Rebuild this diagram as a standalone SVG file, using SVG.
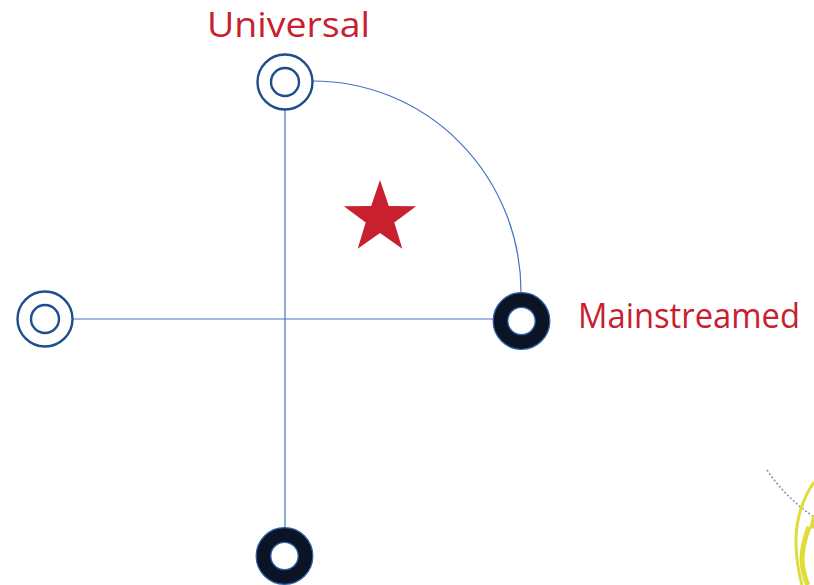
<svg xmlns="http://www.w3.org/2000/svg" width="814" height="585" viewBox="0 0 814 585">
<style>
.ln{fill:none;stroke:#4472c4;stroke-width:1.2}
.ring{fill:none;stroke:#1f4e8c;stroke-width:2.4}
.dark{fill:none;stroke:#0b1424;stroke-width:14.5}
.edge{fill:none;stroke:#2f5fa6;stroke-width:1.3}
.lbl{font-family:"Open Sans","Noto Sans",sans-serif;font-size:35px;fill:#c8202f}
</style>
<rect width="814" height="585" fill="#ffffff"/>
<g id="connectors">
<line class="ln" x1="285" y1="110" x2="285" y2="528"/>
<line class="ln" x1="73" y1="319" x2="493" y2="319"/>
<path class="ln" d="M313,81 A208,211 0 0 1 521,292"/>
</g>
<g id="node-top">
<circle class="ring" cx="285" cy="82" r="27.5"/>
<circle class="ring" cx="285" cy="82" r="14"/>
</g>
<g id="node-left">
<circle class="ring" cx="45" cy="319" r="27.5"/>
<circle class="ring" cx="45" cy="319" r="14"/>
</g>
<g id="node-right">
<circle class="dark" cx="521.5" cy="321" r="21"/>
<circle class="edge" cx="521.5" cy="321" r="28.3"/>
<circle class="edge" cx="521.5" cy="321" r="13.7"/>
</g>
<g id="node-bottom">
<circle class="dark" cx="284.5" cy="556" r="21"/>
<circle class="edge" cx="284.5" cy="556" r="28.3"/>
<circle class="edge" cx="284.5" cy="556" r="13.7"/>
</g>
<g id="star">
<polygon fill="#c8202f" points="380,180 388.8,205.9 416.1,206.3 394.3,222.6 402.3,248.7 380,233 357.7,248.7 365.7,222.6 343.9,206.3 371.2,205.9"/>
</g>
<g id="labels">
<text class="lbl" x="207" y="37" textLength="163" lengthAdjust="spacingAndGlyphs">Universal</text>
<text class="lbl" x="578" y="328" font-size="32" textLength="222" lengthAdjust="spacingAndGlyphs">Mainstreamed</text>
</g>
<g id="corner-deco">
<path d="M767,470 Q785,497 814,517" fill="none" stroke="#8a9aa8" stroke-width="1.6" stroke-dasharray="2,2"/>
<path d="M814,482 Q795,510 796,545 Q797,568 802,585" fill="none" stroke="#e0dc3a" stroke-width="3"/>
<path d="M809,527 Q802,545 802,560 Q803,575 808,585" fill="none" stroke="#e0dc3a" stroke-width="5"/>
<path d="M814,515 L811,527 L814,527" fill="#e0dc3a" stroke="#e0dc3a" stroke-width="3"/>
</g>
</svg>
